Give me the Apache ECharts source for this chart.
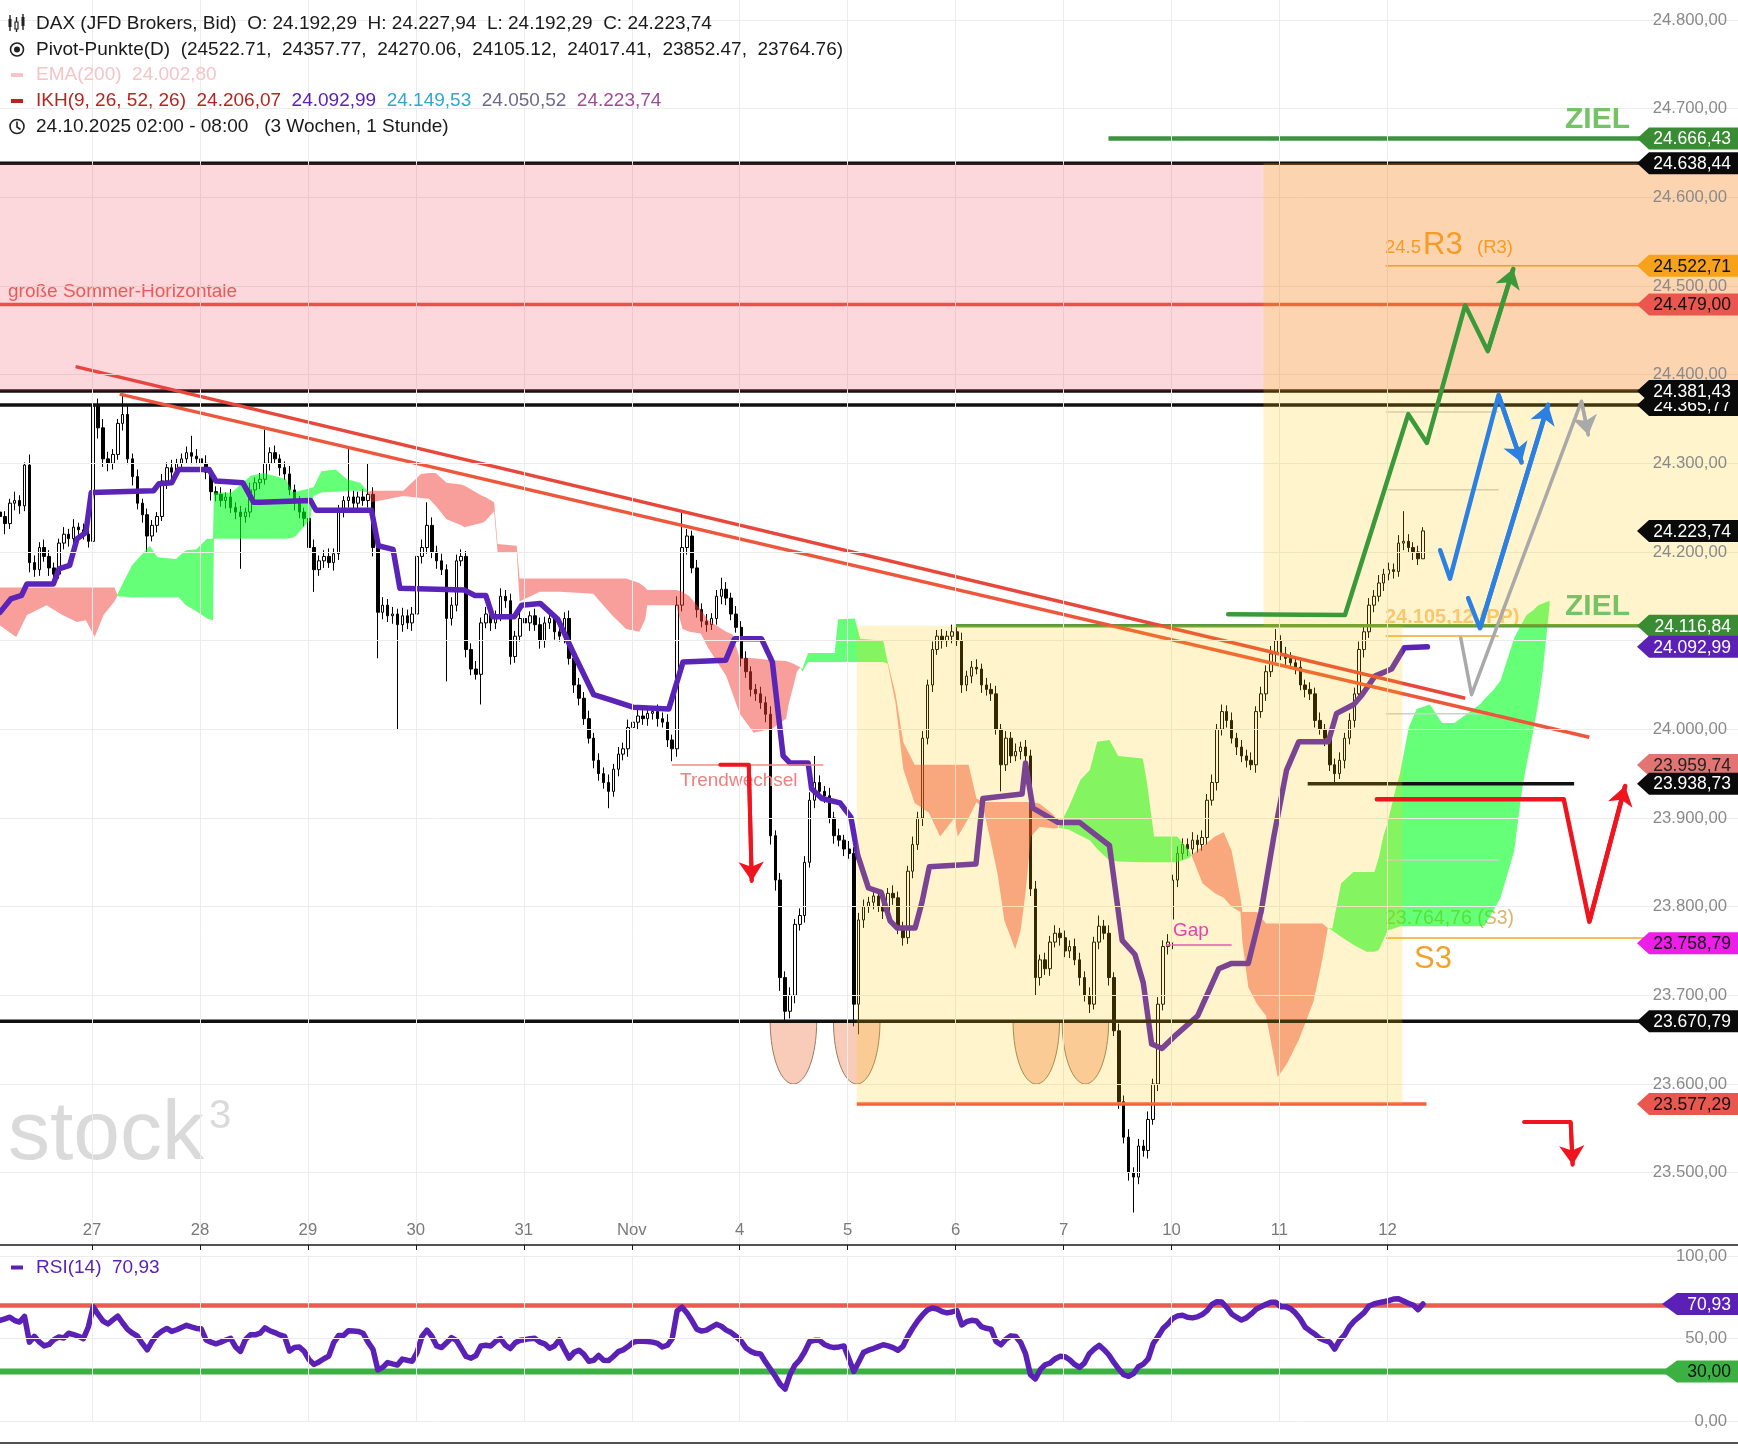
<!DOCTYPE html>
<html><head><meta charset="utf-8">
<script src="https://cdn.jsdelivr.net/npm/echarts@6/dist/echarts.min.js"></script>
<style>html,body{margin:0;padding:0;background:#fff}#c{width:1738px;height:1448px}</style>
</head><body><div id="c"></div>
<script>
// ---------- DATA (x unit = hourly bar index, 22 bars per trading day) ----------
const dayLabels = ['27','28','29','30','31','Nov','4','5','6','7','10','11','12'];
const dayTicks = [18.75,40.75,62.75,84.75,106.75,128.75,150.75,172.75,194.75,216.75,238.75,260.75,282.75];
const priceTicks = [23500,23600,23700,23800,23900,24000,24100,24200,24300,24400,24500,24600,24700,24800];
const rsiTicks = [0,50,100];

const firstOpen = 24245;
const closes = [
24240,24232,24255,24258,24252,24298,24188,24180,24205,24195,24182,24175,24210,24220,24215,24228,24225,24220,24212,24365,24340,24305,
24300,24310,24345,24355,24305,24285,24255,24242,24218,24230,24240,24280,24295,24290,24300,24305,24312,24308,24305,24300,24290,24268,
24265,24258,24262,24250,24245,24240,24245,24270,24278,24282,24300,24312,24305,24295,24288,24270,24255,24245,24238,24205,24180,24190,
24195,24188,24198,24245,24258,24262,24255,24262,24258,24265,24205,24132,24140,24128,24130,24118,24128,24120,24130,24195,24205,24230,
24200,24190,24180,24125,24140,24190,24195,24090,24068,24062,24120,24130,24120,24128,24150,24145,24082,24105,24125,24120,24128,24118,
24100,24120,24125,24110,24105,24125,24080,24050,24035,24012,23990,23965,23950,23940,23930,23955,23972,23978,24002,24008,24015,24012,
24018,24020,24012,24008,23988,23978,24140,24205,24218,24182,24135,24122,24118,24125,24150,24158,24148,24130,24115,24080,24065,24045,
24040,24030,24017,23880,23830,23720,23682,23700,23780,23790,23850,23920,23940,23930,23925,23900,23880,23875,23865,23860,23690,23785,
23800,23805,23812,23800,23795,23815,23810,23775,23765,23840,23870,23900,23990,24050,24090,24105,24100,24105,24110,24100,24050,24060,
24070,24068,24050,24045,24040,24000,23960,23990,23970,23975,23980,23970,23820,23720,23740,23730,23760,23770,23765,23750,23755,23740,
23720,23700,23690,23760,23778,23770,23720,23660,23580,23540,23500,23495,23530,23525,23560,23600,23690,23755,23760,23830,23860,23870,
23865,23875,23870,23878,23920,23940,24000,24020,24010,23990,23980,23970,23965,23960,24020,24040,24065,24085,24100,24085,24080,24075,
24070,24050,24045,24040,24010,24000,23990,23960,23950,23965,23990,24010,24040,24090,24110,24140,24150,24165,24175,24180,24178,24210,
24212,24205,24200,24192.29,24223.74];
const hiExt = [
8,6,5,10,6,3,12,8,6,9,7,6,5,8,6,9,5,7,6,37,8,10,
8,6,5,22,10,6,8,5,7,6,5,8,6,9,5,6,7,19,8,6,9,5,
6,8,5,9,6,7,5,8,6,7,38,6,8,5,7,9,6,8,5,7,9,6,
7,9,6,8,5,54,7,6,9,35,8,6,9,7,8,6,9,7,8,6,9,26,
9,7,8,6,9,7,8,6,7,9,6,8,7,6,9,7,8,6,9,7,5,8,
8,7,9,6,8,7,9,6,8,7,9,6,8,7,9,6,8,7,9,6,8,7,
7,6,8,7,9,6,10,40,8,6,9,7,8,6,7,13,8,6,9,7,8,6,
6,8,7,9,6,8,7,9,6,8,7,9,30,8,6,9,7,8,6,9,7,8,
8,6,9,7,8,6,9,7,8,6,9,7,8,6,9,7,8,6,8,7,9,6,
7,9,6,8,7,9,6,8,7,9,6,8,7,9,6,8,7,9,6,8,7,9,
8,7,9,6,12,7,9,6,8,7,9,6,8,7,9,6,8,7,9,6,8,7,
7,9,6,8,7,9,6,8,7,9,6,8,7,9,6,8,7,9,13,6,8,7,
7,9,6,8,7,9,6,8,7,9,6,8,7,9,6,8,7,9,6,8,7,9,
34,8,6,7,4.2];
const loExt = [
10,12,6,8,9,6,11,8,7,6,9,8,5,7,9,6,8,6,7,4,12,9,
9,7,6,8,6,10,7,9,18,6,8,5,9,7,6,8,5,9,6,7,8,10,
8,7,9,6,8,59,7,6,9,7,6,8,5,9,7,6,8,7,9,8,25,7,
8,6,9,7,6,8,7,9,6,8,10,52,8,7,9,118,8,7,9,6,8,7,
7,9,6,71,8,7,6,9,7,6,34,6,9,7,6,8,9,7,6,8,9,7,
9,8,7,9,6,8,7,9,8,7,6,9,8,7,19,6,8,7,9,6,8,7,
8,7,9,6,8,14,9,7,8,6,9,7,8,6,7,9,8,7,6,9,7,8,
8,7,9,10,12,15,10,8,9,7,8,6,9,7,8,6,9,7,8,6,25,34,
9,7,8,6,9,7,8,6,9,7,8,6,9,7,8,6,9,7,8,6,9,7,
8,6,9,7,8,6,30,7,8,6,9,7,8,20,9,7,8,6,9,7,8,6,
9,7,10,6,8,7,9,6,8,7,9,40,8,7,9,6,8,7,9,8,8,7,
8,6,9,7,8,6,9,7,8,6,9,7,8,6,9,7,8,6,9,7,8,6,
8,6,9,7,8,6,9,7,10,6,9,7,8,6,9,7,8,6,9,7,8,6,
8,6,9,7,0];
const rsi = [
60.9,61.9,62.9,60.9,60.0,63.4,47.8,51.3,48.0,45.5,46.4,49.3,50.9,50.3,53.2,52.4,51.3,49.9,57.0,69.2,64.6,60.5,
58.8,61.3,63.6,59.4,55.5,53.2,51.4,47.0,43.1,48.2,52.2,54.5,56.1,54.3,55.3,56.7,58.0,57.0,56.1,55.9,49.1,47.8,
46.8,47.8,49.1,50.1,44.9,42.2,49.3,52.2,52.2,53.2,56.5,54.7,53.6,52.2,51.3,42.4,44.5,44.9,42.2,37.1,34.3,35.8,
37.7,39.3,47.4,51.8,51.8,54.7,54.5,54.3,53.2,47.8,43.5,31.0,32.5,35.4,34.6,33.9,37.5,36.8,36.2,41.6,51.3,55.1,
51.4,45.5,44.5,47.4,50.5,48.9,44.1,39.1,38.1,39.7,45.5,45.9,45.5,48.2,49.9,45.9,43.9,47.4,48.9,49.3,49.9,50.1,
47.8,46.8,44.1,45.5,49.3,43.5,38.1,41.6,42.9,40.4,36.2,36.8,39.7,36.8,36.6,39.1,42.0,43.1,45.1,47.6,48.4,48.4,
48.2,47.8,47.0,44.9,45.9,50.0,66.7,69.0,65.4,60.9,55.7,54.5,55.1,56.9,58.6,57.4,55.1,53.6,51.3,48.6,44.3,42.2,
41.0,40.6,35.8,31.5,27.1,22.3,19.4,28.1,33.9,37.1,42.0,48.2,48.9,48.9,46.4,45.1,44.5,44.9,45.5,37.7,30.0,35.8,
41.6,42.9,43.9,45.1,46.2,45.5,44.5,42.9,45.2,51.2,56.2,60.6,64.3,67.3,68.5,67.9,66.3,65.5,66.1,66.9,58.2,60.2,
61.0,60.6,57.2,56.2,55.6,48.2,46.2,49.6,51.6,51.2,47.6,40.8,28.1,25.5,31.1,34.1,35.1,37.6,39.2,39.0,37.1,34.3,
32.5,35.1,40.8,43.6,45.8,43.2,40.0,35.5,31.5,28.1,27.1,28.7,32.9,34.5,37.6,46.8,51.2,56.0,58.8,62.2,63.7,64.1,
62.9,62.5,63.1,64.5,66.9,70.7,72.3,72.1,68.9,64.9,62.9,61.2,62.5,64.9,67.7,69.3,70.7,71.9,71.9,69.3,69.3,68.1,
65.5,61.8,56.8,54.6,52.6,50.0,48.8,47.8,43.6,48.8,52.0,57.2,60.6,63.1,65.7,69.7,70.9,71.7,72.3,72.9,73.9,74.1,
72.7,71.3,70.3,67.5,70.93];

// Kijun-sen (purple) vertices
const kijunX = [0,2.2,4.4,5.5,10.9,12.0,14.2,15.7,17.5,18.6,31.3,32.4,35.0,36.4,42.6,44.0,49.5,51.7,53.1,63.3,64.4,75.7,77.1,80.1,81.5,94.6,96.8,99.0,100.4,104.8,106.3,110.1,113.7,117.3,121.0,124.6,129.0,136.3,139.2,147.9,149.7,155.2,157.4,159.6,161.0,164.7,165.4,167.5,171.2,173.4,174.8,177.0,179.6,181.4,182.8,186.5,187.9,189.4,198.9,200.3,208.3,209.0,210.5,215.6,220.0,226.1,228.7,231.3,233.0,234.7,236.8,239.8,244.1,248.4,251.0,254.4,257.0,259.6,262.2,264.7,270.7,272.4,275.9,277.6,280.2,283.6,286.2,290.9];
const kijunY = [24132,24147,24151,24164,24164,24181,24185,24215,24222,24267,24269,24277,24278,24293,24293,24280,24278,24256,24256,24258,24247,24247,24207,24203,24159,24157,24151,24151,24127,24127,24140,24142,24124,24081,24039,24033,24025,24023,24076,24078,24102,24102,24076,23970,23962,23962,23933,23922,23917,23901,23858,23821,23816,23784,23776,23776,23805,23845,23848,23922,23927,23962,23911,23895,23895,23869,23762,23746,23714,23645,23640,23656,23677,23730,23736,23736,23794,23879,23954,23986,23986,24018,24028,24039,24060,24068,24092,24093];

// Ichimoku cloud segments (x, upper edge, lower edge)
const kumo1X = [0,3.3,5.5,9.5,12.7,15.7,17.5,19.3,21.1,23.3,23.9];
const kumo1Top = [24160,24160,24160,24160,24160,24160,24160,24160,24160,24160,24152];
const kumo1Bot = [24117,24104,24129,24140,24129,24121,24123,24104,24129,24144,24150];
const kumo2X = [23.9,26.9,30.5,32.1,35.9,36.4,37.9,40.0,42.2,43.4,43.6,47.2,51.1,53.8,58.3,59.6,60.3,62.6,63.2,63.9,65.5,68.4,70.7,73.4,75.0];
const kumo2Top = [24152,24185,24207,24194,24192,24195,24202,24203,24215,24215,24267,24267,24286,24289,24282,24267,24268,24271,24272,24273,24291,24293,24282,24278,24268];
const kumo2Bot = [24150,24149,24149,24149,24149,24149,24140,24133,24125,24123,24215,24215,24215,24215,24215,24216,24218,24233,24235,24263,24267,24268,24269,24269,24267];
const kumo3X = [75.0,75.7,82.2,85.8,87.4,88.8,91.0,94.0,94.6,98.3,98.9,100.7,101.4,105.3,105.9,110.0,114.1,120.9,124.7,127.6,130.3,131.5,131.9,137.8,139.1,140.5,142.8,144.3,148.0,149.3,150.7,153.6,157.4,160.2,160.8,161.7,162.4,163.1];
const kumo3Top = [24268,24269,24269,24288,24289,24289,24278,24276,24275,24263,24262,24256,24209,24207,24170,24170,24170,24170,24170,24170,24165,24160,24157,24157,24155,24150,24135,24123,24110,24107,24081,24080,24078,24077,24076,24074,24072,24070];
const kumo3Bot = [24267,24256,24263,24261,24260,24252,24237,24230,24228,24233,24235,24246,24200,24200,24144,24155,24155,24153,24129,24113,24110,24124,24140,24140,24113,24110,24108,24092,24060,24040,24018,23996,24001,24012,24030,24049,24065,24070];
const kumo4X = [163.1,163.5,164.7,170.1,170.8,174.2,175.3,180.0,180.9];
const kumo4Top = [24070,24068,24086,24086,24124,24125,24102,24100,24076];
const kumo4Bot = [24070,24065,24076,24076,24076,24076,24076,24076,24074];
const kumo5X = [180.9,182.5,184.1,186.4,189.3,191.6,194.5,195.2,197.4,199.0,200.4,201.7,203.3,204.7,206.9,208.0,209.0,210.1,211.9,214.8,215.7];
const kumo5Top = [24076,24040,23985,23960,23960,23960,23960,23960,23960,23922,23918,23918,23918,23918,23918,23918,23918,23918,23916,23903,23889];
const kumo5Bot = [24074,24030,23955,23917,23906,23879,23900,23879,23900,23918,23911,23879,23837,23784,23752,23773,23816,23879,23890,23888,23889];
const kumo6X = [215.7,217.8,220.2,222.1,223.6,226.1,227.9,232.9,233.8,235.2,239.9,242.4,242.8];
const kumo6Top = [23889,23912,23943,23954,23986,23988,23970,23967,23938,23879,23879,23863,23858];
const kumo6Bot = [23889,23887,23880,23875,23865,23852,23851,23850,23850,23850,23850,23855,23858];
const kumo7X = [242.8,245.1,247.6,249.4,251.0,252.8,253.2,254.4,256.2,258.0,260.4,262.3,264.7,267.7,269.5,270.6];
const kumo7Top = [23858,23868,23879,23884,23863,23810,23794,23794,23794,23781,23781,23781,23781,23781,23781,23776];
const kumo7Bot = [23858,23826,23815,23810,23800,23794,23760,23709,23690,23677,23608,23623,23650,23693,23741,23776];
const kumo8X = [270.6,271.5,273.3,275.8,278.5,280.1,281.0,281.9,282.8,284.4,285.3,287.1,288.7,291.4,293.9,296.4,301.6,302.5,304.3,305.8,308.6,310.2,311.1,312.4,313.5,314.4,315.8];
const kumo8Top = [23776,23775,23826,23839,23839,23839,23855,23879,23895,23932,23950,24002,24023,24028,24007,24007,24028,24034,24044,24055,24103,24120,24129,24134,24140,24142,24145];
const kumo8Bot = [23776,23773,23766,23757,23749,23749,23751,23762,23773,23776,23778,23778,23778,23778,23778,23778,23778,23778,23795,23810,23863,23932,23960,23996,24030,24065,24140];

// levels
const pivotLevels = [24522.71,24357.77,24270.06,24105.12,24017.41,23852.47,23764.76];
const zielLevels = [24666.43,24116.84];
const blackLevels = [24638.44,24381.43,24365.77,23670.79];
const shortBlackLevel = [23938.73];
const sommerLevel = [24479.00];
const boxBottomLevel = [23577.29];
const trendwechselLevel = [23959.74];
const gapLevel = [23756.6];
const tagPrices = [24666.43,24638.44,24522.71,24479.00,24365.77,24381.43,24223.74,24116.84,24092.99,23959.74,23938.73,23758.79,23670.79,23577.29];
const rsiLevels = [70,30];
const rsiTagValues = [70.93,30.00];

// drawn trend lines and projection paths: [bar, price]
const trendA = [[15.4,24409],[298.6,24035]];
const trendB = [[24.4,24378],[323.9,23991]];
const pathGreen = [[250.3,24129.8],[274.1,24128.9],[287.0,24355.4],[290.8,24323],[298.6,24478.3],[303.2,24426.5],[308.4,24519.3]];
const pathBlue1 = [[293.5,24202],[295.5,24170],[305.4,24377],[310.1,24301]];
const pathBlue2 = [[299.2,24148],[301.6,24114],[315.5,24366]];
const pathGray = [[297.7,24103],[299.9,24039],[322.3,24370],[323.7,24332]];
const pathRed = [[280.6,23921],[318.7,23921],[323.9,23783],[331.2,23936]];
const pathRedSmall = [[310.6,23557],[320.1,23557],[320.5,23509]];
const pathTrendArrow = [[146.8,23960],[152.6,23960],[153.2,23829]];
const cupCenters = [161.7,174.6,211.2,221.2];
const cupTop = 23670.79, cupBottom = 23600;
const pinkBand = [[0,24381.43,354.2,24638.44]];
const yellowBoxes = [[257.5,24116.84,354.2,24638.44],[174.6,23577.29,285.8,24116.84]];

const legendOHLCName = 'DAX (JFD Brokers, Bid)';
const emaValue = 24002.80;
const ikhValues = [24206.07,24092.99,24149.53,24050.52,24223.74];
const rsiLast = 70.93;

// ---------- helpers ----------
const F = '"Liberation Sans", Arial, Helvetica, sans-serif';
const X_MIN = 0, X_MAX = 354.2, Y_MIN = 23418.4, Y_MAX = 24822.5;
function de(v){ const s = Math.abs(v).toFixed(2).split('.'); return (v<0?'-':'') + s[0].replace(/\B(?=(\d{3})+(?!\d))/g,'.') + ',' + s[1]; }
function dayFmt(v){ const k = dayTicks.findIndex(t => Math.abs(t - v) < 1e-6); return k >= 0 ? dayLabels[k] : ''; }

const candles = closes.map((c, i) => {
  const o = i === 0 ? firstOpen : closes[i - 1];
  return [i, o, c, Math.min(o, c) - loExt[i], Math.max(o, c) + hiExt[i]];
});
const last = candles[candles.length - 1];

function line(points, color, width, z, xi, yi, extra){
  return Object.assign({type:'line', xAxisIndex: xi||0, yAxisIndex: yi||0, data: points, symbol:'none', silent:true, z: z,
    lineStyle:{color: color, width: width, cap:'round', join:'round'}}, extra||{});
}
function hline(price, x0, x1, color, width, z, xi, yi){ return line([[x0, price],[x1, price]], color, width, z, xi, yi, {lineStyle:{color:color, width:width, cap:'butt'}}); }
function arrow(pts, color, width, z){
  const n = pts.length;
  return {type:'lines', coordinateSystem:'cartesian2d', xAxisIndex:0, yAxisIndex:0, z: z, silent:true,
    symbol:['none','arrow'], symbolSize: 19, lineStyle:{color: color, width: width, opacity: 1},
    data:[{coords:[pts[n-2], pts[n-1]]}]};
}
function poly(xs, tops, bots, fill, z){
  return {type:'custom', xAxisIndex:0, yAxisIndex:0, z: z, silent:true, clip:true,
    data: xs.map((x, i) => [x, tops[i], bots[i]]), encode:{x:0, y:[1,2]},
    renderItem: (params, api) => {
      if (params.dataIndex !== 0) return null;
      const pts = [];
      for (let i = 0; i < xs.length; i++) pts.push(api.coord([xs[i], tops[i]]));
      for (let i = xs.length - 1; i >= 0; i--) pts.push(api.coord([xs[i], bots[i]]));
      return {type:'polygon', shape:{points: pts}, style:{fill: fill}};
    }};
}
function rects(list, fill, z){
  return {type:'custom', xAxisIndex:0, yAxisIndex:0, z: z, silent:true, clip:true,
    data: list, encode:{x:[0,2], y:[1,3]},
    renderItem: (params, api) => {
      const p0 = api.coord([api.value(0), api.value(3)]);
      const p1 = api.coord([api.value(2), api.value(1)]);
      return {type:'rect', shape:{x:p0[0], y:p0[1], width:p1[0]-p0[0], height:p1[1]-p0[1]}, style:{fill: fill}};
    }};
}
function tags(values, bgs, fgs, xi, yi, tipOff, bodyOff, z){
  return {type:'custom', xAxisIndex: xi, yAxisIndex: yi, z: z, silent:true, clip:false,
    data: values.map((v, i) => [X_MIN, v, i]), encode:{x:0, y:1},
    renderItem: (params, api) => {
      const i = api.value(2);
      const y = api.coord([X_MIN, api.value(1)])[1];
      const cs = params.coordSys; const right = cs.x + cs.width;
      const tip = right - tipOff, left = right - bodyOff, h = 11;
      return {type:'group', children:[
        {type:'polygon', shape:{points:[[tip,y],[left,y-h],[right,y-h],[right,y+h],[left,y+h]]}, style:{fill: bgs[i]}},
        {type:'text', style:{text: de(values[i]), x: right - 7, y: y + 1, align:'right', verticalAlign:'middle', textAlign:'right', textVerticalAlign:'middle', fill: fgs[i], font: '17.5px ' + F}}
      ]};
    }};
}
function cups(z){
  return {type:'custom', xAxisIndex:0, yAxisIndex:0, z: z, silent:true, clip:true,
    data: cupCenters.map(c => [c, cupTop]), encode:{x:0, y:1},
    renderItem: (params, api) => {
      const c = api.value(0);
      const l = api.coord([c - 4.74, cupTop]), r = api.coord([c + 4.74, cupTop]), b = api.coord([c, cupBottom]);
      const a = (r[0] - l[0]) / 2, cx = l[0] + a, d = b[1] - l[1];
      const pts = [];
      for (let k = 0; k <= 40; k++){ const t = Math.PI * k / 40; pts.push([cx + a * Math.cos(t), l[1] + d * Math.sin(t)]); }
      return {type:'polygon', shape:{points: pts}, style:{fill:'rgba(240,120,70,0.38)', stroke:'#9b7b62', lineWidth:1}};
    }};
}
function gridLines(xi, yi, yVals){
  return {type:'line', xAxisIndex: xi, yAxisIndex: yi, data: [], z: 0, silent:true,
    markLine:{silent:true, symbol:['none','none'], label:{show:false}, animation:false,
      lineStyle:{color:'#ececec', width:1, type:'solid'},
      data: dayTicks.map(v => ({xAxis: v})).concat(yVals.map(v => ({yAxis: v})))}};
}

// ---------- series ----------
const GREEN_CLOUD = 'rgba(0,255,30,0.6)', RED_CLOUD = 'rgba(240,60,50,0.49)';
const series = [
  gridLines(0, 0, priceTicks),
  gridLines(1, 1, rsiTicks),
  {type:'candlestick', xAxisIndex:0, yAxisIndex:0, data: candles, encode:{x:0, y:[1,2,3,4]}, barWidth: 3, z: 1, silent:true,
    itemStyle:{color:'#ffffff', color0:'#000000', borderColor:'#000000', borderColor0:'#000000', borderWidth:1}},
  poly(kumo1X, kumo1Top, kumo1Bot, RED_CLOUD, 2),
  poly(kumo2X, kumo2Top, kumo2Bot, GREEN_CLOUD, 2),
  poly(kumo3X, kumo3Top, kumo3Bot, RED_CLOUD, 2),
  poly(kumo4X, kumo4Top, kumo4Bot, GREEN_CLOUD, 2),
  poly(kumo5X, kumo5Top, kumo5Bot, RED_CLOUD, 2),
  poly(kumo6X, kumo6Top, kumo6Bot, GREEN_CLOUD, 2),
  poly(kumo7X, kumo7Top, kumo7Bot, RED_CLOUD, 2),
  poly(kumo8X, kumo8Top, kumo8Bot, GREEN_CLOUD, 2),
  line(kijunX.map((x, i) => [x, kijunY[i]]), '#5a24b8', 5.5, 3),
  cups(3),
  // horizontal levels
  hline(zielLevels[0], 225.9, X_MAX, '#3d9440', 4.5, 4),
  hline(blackLevels[0], X_MIN, X_MAX, '#111111', 3.5, 4),
  hline(pivotLevels[0], 282.4, X_MAX, '#f5a623', 1.5, 4),
  hline(sommerLevel[0], X_MIN, X_MAX, '#e9564d', 3.5, 4),
  hline(blackLevels[1], X_MIN, X_MAX, '#111111', 3.5, 4),
  hline(blackLevels[2], X_MIN, X_MAX, '#111111', 3.5, 4),
  hline(pivotLevels[1], 282.4, 305.4, '#cfcfcf', 1.5, 3.9),
  hline(pivotLevels[2], 282.4, 305.4, '#cfcfcf', 1.5, 3.9),
  hline(pivotLevels[3], 282.4, 305.4, '#f5a623', 1.5, 3.9),
  hline(pivotLevels[4], 282.4, 305.4, '#cfcfcf', 1.5, 3.9),
  hline(pivotLevels[5], 282.4, 305.4, '#cfcfcf', 1.5, 3.9),
  hline(pivotLevels[6], 282.4, X_MAX, '#f5a623', 1.5, 3.9),
  hline(zielLevels[1], 194.7, X_MAX, '#5a9a3c', 3.5, 4),
  hline(shortBlackLevel[0], 266.5, 320.8, '#111111', 3.5, 4),
  hline(blackLevels[3], X_MIN, X_MAX, '#111111', 3.5, 4),
  hline(boxBottomLevel[0], 174.6, 290.7, '#f0603c', 3.5, 4),
  hline(trendwechselLevel[0], 136.9, 167.8, '#f28a8a', 1.5, 4),
  hline(gapLevel[0], 237.6, 251.0, '#e53be5', 1.5, 4),
  line(trendA, '#e8473b', 3.5, 4, 0, 0, {lineStyle:{color:'#e8473b', width:3.5, cap:'butt'}}),
  line(trendB, '#ee573b', 3.5, 4, 0, 0, {lineStyle:{color:'#ee573b', width:3.5, cap:'butt'}}),
  // bands on top
  rects(pinkBand, 'rgba(240,60,80,0.2)', 5),
  rects(yellowBoxes, 'rgba(255,200,0,0.2)', 5),
  // projections
  line(pathGreen, '#3a9a3a', 4.5, 6), arrow(pathGreen, '#3a9a3a', 4.5, 6),
  line(pathBlue1, '#2b80e2', 4.5, 6), arrow(pathBlue1, '#2b80e2', 4.5, 6),
  line(pathBlue2, '#2b80e2', 4.5, 6), arrow(pathBlue2, '#2b80e2', 4.5, 6),
  line(pathGray, '#a9a9a9', 3.5, 6), arrow(pathGray, '#a9a9a9', 3.5, 6),
  line(pathRed, '#f0141e', 4.5, 6), arrow(pathRed, '#f0141e', 4.5, 6),
  line(pathRedSmall, '#f0141e', 4, 6), arrow(pathRedSmall, '#f0141e', 4, 6),
  line(pathTrendArrow, '#f0141e', 4, 6), arrow(pathTrendArrow, '#f0141e', 4, 6),
  // tags
  tags(tagPrices,
    ['#3a8c34','#0a0a0a','#f7a21b','#e9574f','#0a0a0a','#0a0a0a','#0a0a0a','#3a8c34','#5b21b6','#e37474','#0a0a0a','#ec1ee8','#0a0a0a','#e9574f'],
    ['#ffffff','#ffffff','#111111','#111111','#ffffff','#ffffff','#ffffff','#ffffff','#ffffff','#222222','#ffffff','#111111','#ffffff','#111111'],
    0, 0, 101, 89, 7),
  // RSI
  hline(rsiLevels[0], X_MIN, X_MAX, '#ef5a50', 4.5, 2, 1, 1),
  hline(rsiLevels[1], X_MIN, X_MAX, '#3cb043', 6, 2, 1, 1),
  line(rsi.map((v, i) => [i, v]), '#5b21b6', 5.5, 3, 1, 1),
  tags(rsiTagValues, ['#5b21b6','#3cb043'], ['#ffffff','#111111'], 1, 1, 76, 61, 7)
];

// ---------- graphic texts ----------
function T(text, x, y, font, fill, z, extra){
  return Object.assign({type:'text', x: x, y: y, z: z, silent:true,
    style: Object.assign({text: text, fill: fill, font: font, align:'left', verticalAlign:'middle', textAlign:'left', textVerticalAlign:'middle'}, (extra && extra.style) || {})}, (extra && extra.el) || {});
}
const LF = '19px ' + F;
const rs = c => ({fill: c, fontSize: 19, fontFamily: F});
const graphic = [
  // legend icons
  {type:'line', z:10, shape:{x1:10,y1:15,x2:10,y2:31}, style:{stroke:'#222', lineWidth:1.4}},
  {type:'rect', z:10, shape:{x:8.5,y:19,width:3,height:8}, style:{fill:'#222'}},
  {type:'line', z:10, shape:{x1:16.5,y1:17,x2:16.5,y2:32}, style:{stroke:'#222', lineWidth:1.4}},
  {type:'rect', z:10, shape:{x:15,y:22,width:3,height:7}, style:{fill:'#fff', stroke:'#222', lineWidth:1.2}},
  {type:'line', z:10, shape:{x1:23,y1:14,x2:23,y2:30}, style:{stroke:'#222', lineWidth:1.4}},
  {type:'rect', z:10, shape:{x:21.5,y:17,width:3,height:9}, style:{fill:'#222'}},
  {type:'circle', z:10, shape:{cx:17,cy:49.5,r:6.5}, style:{fill:'none', stroke:'#222', lineWidth:1.6}},
  {type:'circle', z:10, shape:{cx:17,cy:49.5,r:3}, style:{fill:'#222'}},
  {type:'rect', z:10, shape:{x:11,y:73,width:12,height:4}, style:{fill:'#f7c5c8'}},
  {type:'rect', z:10, shape:{x:11,y:99,width:12,height:4}, style:{fill:'#b5261e'}},
  {type:'circle', z:10, shape:{cx:17,cy:126.5,r:7}, style:{fill:'none', stroke:'#222', lineWidth:1.6}},
  {type:'polyline', z:10, shape:{points:[[17,121.5],[17,127],[20.5,129.5]]}, style:{fill:'none', stroke:'#222', lineWidth:1.6}},
  {type:'rect', z:10, shape:{x:11,y:1265.5,width:12,height:4}, style:{fill:'#5b21b6'}},
  // legend texts
  T(legendOHLCName + '  O: ' + de(last[1]) + '  H: ' + de(last[4]) + '  L: ' + de(last[3]) + '  C: ' + de(last[2]), 36, 23.5, LF, '#1a1a1a', 10),
  T('Pivot-Punkte(D)  (' + pivotLevels.map(v => v.toFixed(2)).join(',  ') + ')', 36, 49.5, LF, '#1a1a1a', 10),
  T('EMA(200)  ' + de(emaValue), 36, 75, LF, '#f5c4c6', 10),
  T('{a|IKH(9, 26, 52, 26)  ' + de(ikhValues[0]) + '}  {b|' + de(ikhValues[1]) + '}  {c|' + de(ikhValues[2]) + '}  {d|' + de(ikhValues[3]) + '}  {e|' + de(ikhValues[4]) + '}',
    36, 101, LF, '#b5261e', 10, {style:{rich:{a:rs('#b5261e'), b:rs('#5b21b6'), c:rs('#2ea8cf'), d:rs('#6e6a8a'), e:rs('#a04a98')}}}),
  T('24.10.2025 02:00 - 08:00   (3 Wochen, 1 Stunde)', 36, 126.5, LF, '#1a1a1a', 10),
  T('RSI(14)  ' + de(rsiLast), 36, 1267.5, LF, '#5b21b6', 10),
  // annotations
  T('große Sommer-Horizontale', 8, 292, '19px ' + F, '#e9625b', 4.5),
  T('ZIEL', 1565, 120, 'bold 30px ' + F, '#76c267', 10),
  T('ZIEL', 1565, 607, 'bold 30px ' + F, '#76c267', 10),
  T('24.5', 1385, 247.5, '18.5px ' + F, '#f5a623', 4.5),
  T('R3', 1423, 245, '31px ' + F, '#f5a623', 4.5),
  T('(R3)', 1477, 248, '18.5px ' + F, '#f5a623', 4.5),
  T('24.105,12 (PP)', 1385, 617, 'bold 20px ' + F, '#f8c98a', 3.5),
  T('23.764,76 (S3)', 1385, 919, '19.5px ' + F, '#d9b56c', 1.5),
  T('S3', 1414, 959, '31px ' + F, '#f5a02a', 10),
  T('Trendwechsel', 680, 781, '19px ' + F, '#f07f7f', 4.5),
  T('Gap', 1170, 931, '19px ' + F, '#e020e0', 4.5, {style:{backgroundColor:'#ffffff', padding:[2,5,2,3]}}),
  T('stock', 8, 1136, '84px ' + F, '#dadada', 0.5),
  T('3', 209, 1117, '40px ' + F, '#dadada', 0.5)
];

const axisLabelStyle = {color:'#8a8a8a', fontSize:16.7, fontFamily:F};
const option = {
  animation: false,
  backgroundColor: '#ffffff',
  grid: [
    {left:0, right:0, top:0, height:1245},
    {left:0, right:0, top:1256, height:165}
  ],
  xAxis: [
    {type:'value', gridIndex:0, min:X_MIN, max:X_MAX, position:'bottom', z:5.5,
      axisLine:{show:true, onZero:false, lineStyle:{color:'#1a1a1a', width:1.5}},
      axisTick:{show:true, customValues: dayTicks, length:5, lineStyle:{color:'#1a1a1a'}},
      axisLabel:Object.assign({show:true, inside:true, margin:6, customValues: dayTicks, formatter: dayFmt}, axisLabelStyle, {color:'#7a7a7a'}),
      splitLine:{show:false}},
    {type:'value', gridIndex:1, min:X_MIN, max:X_MAX, position:'bottom', offset:22,
      axisLine:{show:true, onZero:false, lineStyle:{color:'#1a1a1a', width:1.5}},
      axisTick:{show:false}, axisLabel:{show:false}, splitLine:{show:false}}
  ],
  yAxis: [
    {type:'value', gridIndex:0, min:Y_MIN, max:Y_MAX, position:'right', z:5.5,
      axisLine:{show:false},
      axisTick:{show:true, inside:true, length:5, customValues: priceTicks, lineStyle:{color:'#555'}},
      axisLabel:Object.assign({show:true, inside:true, margin:11, customValues: priceTicks, formatter: v => de(v)}, axisLabelStyle),
      splitLine:{show:false}},
    {type:'value', gridIndex:1, min:0, max:100, interval:50, position:'right', z:5.5,
      axisLine:{show:false},
      axisTick:{show:true, inside:true, length:5, lineStyle:{color:'#555'}},
      axisLabel:Object.assign({show:true, inside:true, margin:11, formatter: v => de(v)}, axisLabelStyle),
      splitLine:{show:false}}
  ],
  graphic: graphic,
  series: series
};
const chart = echarts.init(document.getElementById('c'), null, {renderer:'canvas'});
chart.setOption(option);
</script></body></html>
